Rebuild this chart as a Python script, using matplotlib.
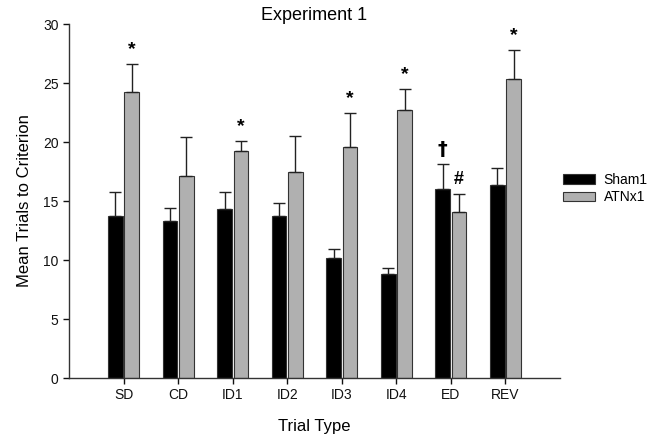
import matplotlib
matplotlib.use("Agg")
import matplotlib.pyplot as plt
import numpy as np

plt.rcParams['font.family'] = ['Liberation Sans', 'DejaVu Sans']

categories = ["SD", "CD", "ID1", "ID2", "ID3", "ID4", "ED", "REV"]
sham_mean = [13.7, 13.3, 14.3, 13.7, 10.2, 8.8, 16.0, 16.4]
sham_top = [15.8, 14.4, 15.8, 14.8, 10.9, 9.3, 18.1, 17.8]
atn_mean = [24.2, 17.1, 19.2, 17.5, 19.6, 22.7, 14.1, 25.3]
atn_top = [26.6, 20.4, 20.1, 20.5, 22.5, 24.5, 15.6, 27.8]
atn_marks = ["*", "", "*", "", "*", "*", "#", "*"]
sham_marks = ["", "", "", "", "", "", "\u2020", ""]

sham_err = [t - m for t, m in zip(sham_top, sham_mean)]
atn_err = [t - m for t, m in zip(atn_top, atn_mean)]

fig = plt.figure(figsize=(6.58, 4.37), dpi=100)
ax = fig.add_axes([0.105, 0.135, 0.746, 0.81])

x = np.arange(len(categories))
w = 0.27
off = 0.15
ekw = dict(ecolor='#222222', elinewidth=1.0, capsize=4, capthick=1.0)
ax.bar(x - off, sham_mean, w, color='black', edgecolor='#333333', linewidth=0.8,
       yerr=[np.zeros(len(x)), sham_err], error_kw=ekw, label='Sham1')
ax.bar(x + off, atn_mean, w, color='#b0b0b0', edgecolor='#333333', linewidth=0.8,
       yerr=[np.zeros(len(x)), atn_err], error_kw=ekw, label='ATNx1')

for i in range(len(x)):
    if atn_marks[i]:
        ax.text(x[i] + off, atn_top[i] + 0.5, atn_marks[i], ha='center', va='bottom',
                fontsize=14 if atn_marks[i] == '*' else 13, fontweight='bold')
    if sham_marks[i]:
        ax.text(x[i] - off, sham_top[i] + 0.5, sham_marks[i], ha='center', va='bottom',
                fontsize=14, fontweight='bold', family=['DejaVu Sans'])

ax.set_xlim(-1, 8)
ax.set_ylim(0, 30)
ax.set_xticks(x)
ax.set_xticklabels(categories)
ax.set_yticks(np.arange(0, 31, 5))
ax.spines['top'].set_visible(False)
ax.spines['right'].set_visible(False)
for s in ['left', 'bottom']:
    ax.spines[s].set_color('#333333')
    ax.spines[s].set_linewidth(1.0)
ax.tick_params(axis='both', direction='out', length=4, width=1, labelsize=10, colors='#111111')
ax.set_xlabel("Trial Type", fontsize=12, labelpad=12)
ax.set_ylabel("Mean Trials to Criterion", fontsize=12, labelpad=8)
ax.set_title("Experiment 1", fontsize=13, pad=0)

leg = ax.legend(loc='center left', bbox_to_anchor=(0.99, 0.535), frameon=False,
                fontsize=10, handlelength=2.3, handleheight=0.7, borderaxespad=0.2,
                labelspacing=0.25, handletextpad=0.6)

fig.savefig("out.png", dpi=100)
